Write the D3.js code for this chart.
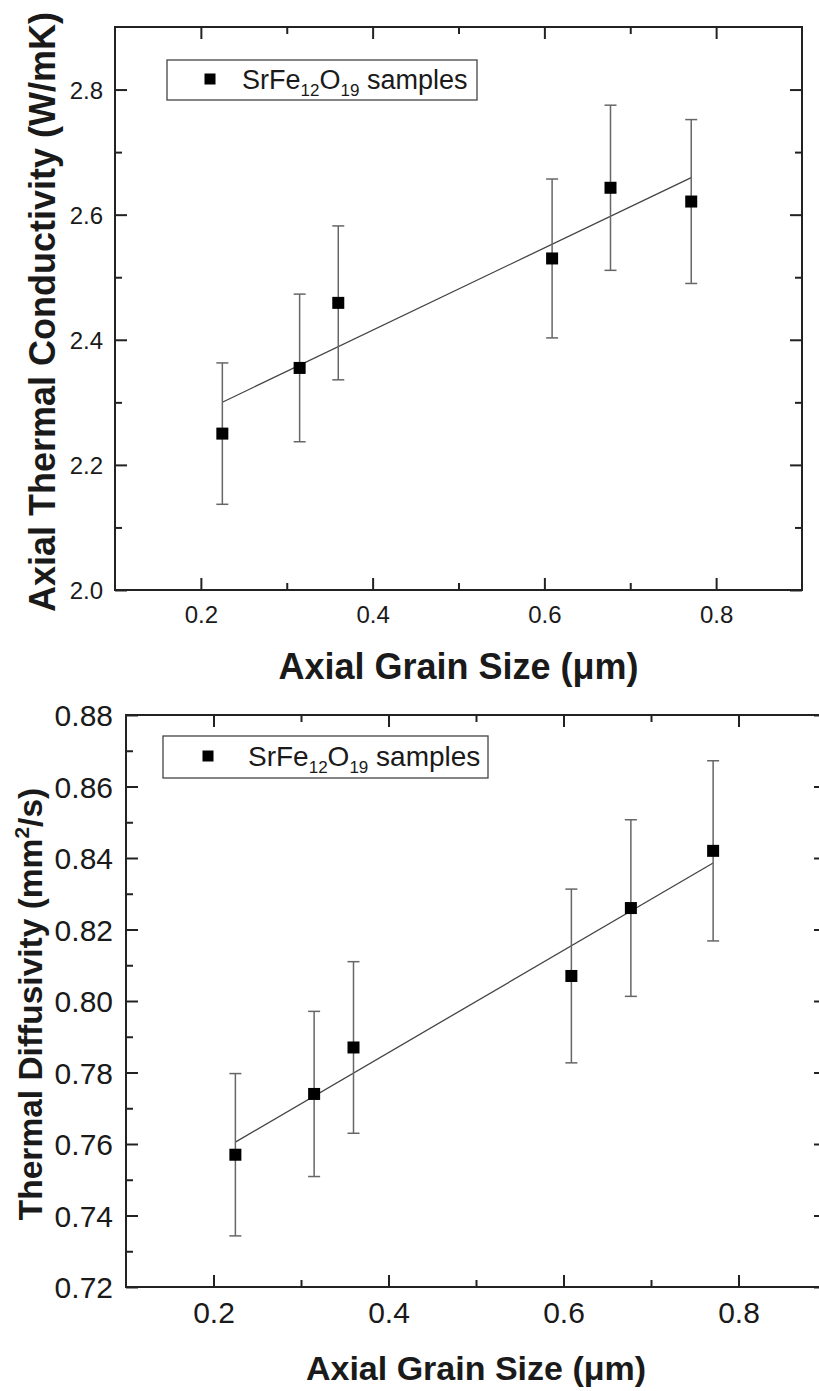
<!DOCTYPE html>
<html>
<head>
<meta charset="utf-8">
<script src="https://cdn.jsdelivr.net/npm/d3@7"></script>
<style>
  html, body { margin: 0; padding: 0; background: #fff; }
  svg { display: block; }
  text { font-family: "Liberation Sans", Arial, Helvetica, sans-serif; fill: #1a1a1a; }
</style>
</head>
<body>
<svg id="fig" width="819" height="1391"></svg>
<script>
// Axial grain size of the SrFe12O19 samples (µm)
const grainSize = [0.225, 0.315, 0.360, 0.609, 0.677, 0.771];

// Axial thermal conductivity (W/mK) and its uncertainty
const conductivity    = [2.250, 2.355, 2.459, 2.530, 2.643, 2.621];
const conductivityErr = [0.113, 0.118, 0.123, 0.127, 0.132, 0.131];

// Thermal diffusivity (mm²/s) and its uncertainty
const diffusivity    = [0.757, 0.774, 0.787, 0.807, 0.826, 0.842];
const diffusivityErr = [0.0227, 0.0231, 0.0240, 0.0243, 0.0247, 0.0252];

// Axis ticks
const xMajorTicks = [0.2, 0.4, 0.6, 0.8];
const xMinorTicks = [0.3, 0.5, 0.7];
const condMajorTicks = [2.0, 2.2, 2.4, 2.6, 2.8];
const condMinorTicks = [2.1, 2.3, 2.5, 2.7];
const diffMajorTicks = [0.72, 0.74, 0.76, 0.78, 0.80, 0.82, 0.84, 0.86, 0.88];
const diffMinorTicks = [0.73, 0.75, 0.77, 0.79, 0.81, 0.83, 0.85, 0.87];

const svg = d3.select("#fig");

// Least-squares straight line through the points
function linearFit(xs, ys) {
  const n = xs.length;
  const mx = d3.mean(xs), my = d3.mean(ys);
  let sxy = 0, sxx = 0;
  for (let i = 0; i < n; i++) {
    sxy += (xs[i] - mx) * (ys[i] - my);
    sxx += (xs[i] - mx) * (xs[i] - mx);
  }
  const slope = sxy / sxx;
  return x => my + slope * (x - mx);
}

function drawPanel(p) {
  const g = svg.append("g");
  const x = d3.scaleLinear().domain([0.1, 0.9]).range([p.left, p.right]);
  const y = d3.scaleLinear().domain(p.yDomain).range([p.bottom, p.top]);
  const major = 12, minor = 7;

  // Inward ticks on all four sides
  const addAxis = (axis, transform) => {
    const a = g.append("g").attr("transform", transform).call(axis);
    a.select(".domain").remove();
    a.selectAll(".tick line").attr("stroke", "#222").attr("stroke-width", 2);
    return a;
  };
  const fmtX = d3.format(".1f");
  const bx = addAxis(d3.axisBottom(x).tickValues(xMajorTicks).tickSize(-major).tickPadding(0).tickFormat(fmtX),
    `translate(0,${p.bottom})`);
  bx.selectAll(".tick text").attr("font-size", p.tickFont).attr("dy", null)
    .attr("y", p.xLabelOffset).attr("fill", "#222");
  addAxis(d3.axisBottom(x).tickValues(xMinorTicks).tickSize(-minor).tickFormat(""), `translate(0,${p.bottom})`);
  addAxis(d3.axisTop(x).tickValues(xMajorTicks).tickSize(-major).tickFormat(""), `translate(0,${p.top})`);
  addAxis(d3.axisTop(x).tickValues(xMinorTicks).tickSize(-minor).tickFormat(""), `translate(0,${p.top})`);

  const ly = addAxis(d3.axisLeft(y).tickValues(p.yMajor).tickSize(-major).tickPadding(0).tickFormat(p.yFormat),
    `translate(${p.left},0)`);
  ly.selectAll(".tick text").attr("font-size", p.tickFont).attr("x", -p.yLabelGap)
    .attr("dy", "0.36em").attr("fill", "#222");
  addAxis(d3.axisLeft(y).tickValues(p.yMinor).tickSize(-minor).tickFormat(""), `translate(${p.left},0)`);
  addAxis(d3.axisRight(y).tickValues(p.yMajor).tickSize(-major).tickFormat(""), `translate(${p.right},0)`);
  addAxis(d3.axisRight(y).tickValues(p.yMinor).tickSize(-minor).tickFormat(""), `translate(${p.right},0)`);

  // Frame
  g.append("rect")
    .attr("x", p.left).attr("y", p.top)
    .attr("width", p.right - p.left).attr("height", p.bottom - p.top)
    .attr("fill", "none").attr("stroke", "#222").attr("stroke-width", 2);

  // Linear fit
  const fit = linearFit(grainSize, p.values);
  const x0 = d3.min(grainSize), x1 = d3.max(grainSize);
  g.append("line")
    .attr("x1", x(x0)).attr("y1", y(fit(x0)))
    .attr("x2", x(x1)).attr("y2", y(fit(x1)))
    .attr("stroke", "#444").attr("stroke-width", 1.3);

  // Error bars
  const pts = grainSize.map((gs, i) => ({ gs, v: p.values[i], e: p.errors[i] }));
  const eb = g.append("g").attr("stroke", "#666").attr("stroke-width", 1.5);
  eb.selectAll("line.stem").data(pts).join("line")
    .attr("x1", d => x(d.gs)).attr("x2", d => x(d.gs))
    .attr("y1", d => y(d.v + d.e)).attr("y2", d => y(d.v - d.e));
  eb.selectAll("line.capTop").data(pts).join("line")
    .attr("x1", d => x(d.gs) - 6).attr("x2", d => x(d.gs) + 6)
    .attr("y1", d => y(d.v + d.e)).attr("y2", d => y(d.v + d.e));
  eb.selectAll("line.capBot").data(pts).join("line")
    .attr("x1", d => x(d.gs) - 6).attr("x2", d => x(d.gs) + 6)
    .attr("y1", d => y(d.v - d.e)).attr("y2", d => y(d.v - d.e));

  // Data markers
  const s = 12;
  g.append("g").selectAll("rect").data(pts).join("rect")
    .attr("x", d => x(d.gs) - s / 2).attr("y", d => y(d.v) - s / 2)
    .attr("width", s).attr("height", s).attr("fill", "#000");

  // Legend
  const L = p.legend;
  g.append("rect").attr("x", L.x).attr("y", L.y).attr("width", L.w).attr("height", L.h)
    .attr("fill", "#fff").attr("stroke", "#444").attr("stroke-width", 1.3);
  g.append("rect").attr("x", L.mx - 5.5).attr("y", L.my - 5.5).attr("width", 11).attr("height", 11)
    .attr("fill", "#000");
  const lt = g.append("text").attr("x", L.tx).attr("y", L.ty).attr("font-size", L.font).attr("fill", "#222");
  const sub = Math.round(L.font * 0.62);
  const shift = L.font * 0.26;
  lt.append("tspan").text("SrFe");
  lt.append("tspan").attr("font-size", sub).attr("dy", shift).text("12");
  lt.append("tspan").attr("dy", -shift).text("O");
  lt.append("tspan").attr("font-size", sub).attr("dy", shift).text("19");
  lt.append("tspan").attr("dy", -shift).text(" samples");

  // Axis titles
  g.append("text")
    .attr("x", (p.left + p.right) / 2).attr("y", p.xTitleY)
    .attr("text-anchor", "middle").attr("font-weight", "bold").attr("font-size", p.titleFont)
    .text("Axial Grain Size (\u03bcm)");
  const yt = g.append("text")
    .attr("transform", `translate(${p.yTitleX},${p.yTitleCY}) rotate(-90)`)
    .attr("text-anchor", "middle").attr("font-weight", "bold").attr("font-size", p.yTitleFont);
  p.yTitle(yt);
}

// Upper panel: axial thermal conductivity
drawPanel({
  left: 115, right: 802, top: 27, bottom: 590,
  yDomain: [2.0, 2.9], yMajor: condMajorTicks, yMinor: condMinorTicks,
  yFormat: d3.format(".1f"),
  values: conductivity, errors: conductivityErr,
  tickFont: 24, xLabelOffset: 33, yLabelGap: 12,
  titleFont: 36, xTitleY: 679,
  yTitleFont: 36, yTitleX: 55, yTitleCY: 312,
  yTitle: t => t.text("Axial Thermal Conductivity (W/mK)"),
  legend: { x: 167, y: 60, w: 310, h: 40, mx: 210, my: 79, tx: 242, ty: 89, font: 27 }
});

// Lower panel: thermal diffusivity
drawPanel({
  left: 126, right: 826, top: 715, bottom: 1287,
  yDomain: [0.72, 0.88], yMajor: diffMajorTicks, yMinor: diffMinorTicks,
  yFormat: d3.format(".2f"),
  values: diffusivity, errors: diffusivityErr,
  tickFont: 30, xLabelOffset: 36, yLabelGap: 13,
  titleFont: 34, xTitleY: 1380,
  yTitleFont: 33.5, yTitleX: 42, yTitleCY: 1004,
  yTitle: t => {
    t.append("tspan").text("Thermal Diffusivity (mm");
    t.append("tspan").attr("font-size", 21).attr("dy", -13).text("2");
    t.append("tspan").attr("dy", 13).text("/s)");
  },
  legend: { x: 163, y: 736, w: 325, h: 42, mx: 208, my: 756, tx: 248, ty: 766, font: 28 }
});
</script>
</body>
</html>
